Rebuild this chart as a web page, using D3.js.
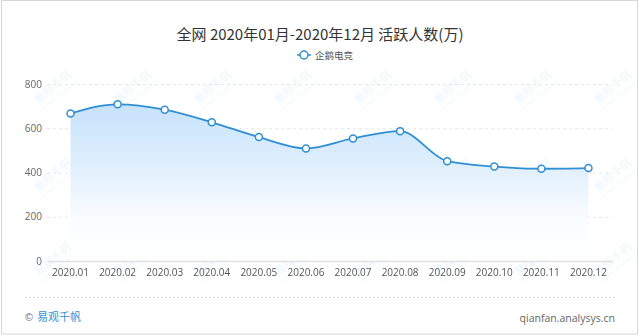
<!DOCTYPE html>
<html>
<head>
<meta charset="utf-8">
<script src="https://cdn.jsdelivr.net/npm/d3@7"></script>
<style>
  html, body { margin: 0; padding: 0; background: #fff; }
  svg { display: block; }
</style>
</head>
<body>
<div id="chart"></div>
<script>
const months = ['2020.01', '2020.02', '2020.03', '2020.04', '2020.05', '2020.06',
  '2020.07', '2020.08', '2020.09', '2020.10', '2020.11', '2020.12'];
const activeUsers = [667, 708, 684, 627, 560, 509, 554, 587, 451, 427, 417, 420];
const yTicks = [0, 200, 400, 600, 800];
const seriesName = '企鹅电竞';
const titleText = '全网 2020年01月-2020年12月 活跃人数(万)';

const totalWidth = 640;
const totalHeight = 336;
const margin = { top: 84, right: 28, bottom: 75, left: 47 };
const width = totalWidth - margin.left - margin.right;
const height = 261 - margin.top;

const data = months.map((m, i) => ({ month: m, value: activeUsers[i] }));

const xScale = d3.scaleBand().domain(months).range([0, width]);
const yScale = d3.scaleLinear().domain([0, 800]).range([height, 0]);
const cx = (d) => xScale(d.month) + xScale.bandwidth() / 2;

const root = d3.select('#chart')
  .append('svg')
  .attr('width', totalWidth)
  .attr('height', totalHeight);

// frame
root.append('rect')
  .attr('x', 1.5).attr('y', 0.5)
  .attr('width', 636).attr('height', 333.5)
  .attr('fill', '#fff')
  .attr('stroke', '#d6d6d6');

const defs = root.append('defs');
const grad = defs.append('linearGradient')
  .attr('id', 'areaFill')
  .attr('x1', 0).attr('y1', 0).attr('x2', 0).attr('y2', 1);
grad.append('stop').attr('offset', '0%').attr('stop-color', '#c6e2fb');
grad.append('stop').attr('offset', '45%').attr('stop-color', '#e4f1fd');
grad.append('stop').attr('offset', '72%').attr('stop-color', '#f9fcff');
grad.append('stop').attr('offset', '100%').attr('stop-color', '#ffffff');

// Render title
root.append('text')
  .attr('x', 320).attr('y', 40)
  .attr('text-anchor', 'middle')
  .attr('font-family', '"Noto Sans CJK SC", sans-serif')
  .attr('font-size', 15)
  .attr('fill', '#333')
  .text(titleText);

// Render legend
const legend = root.append('g').attr('transform', 'translate(297, 55)');
legend.append('line')
  .attr('x1', 0).attr('x2', 14)
  .attr('stroke', '#2f8fd2').attr('stroke-width', 1.5);
legend.append('circle')
  .attr('cx', 7).attr('r', 4)
  .attr('fill', '#fff').attr('stroke', '#2f8fd2').attr('stroke-width', 1.5);
legend.append('text')
  .attr('x', 18).attr('y', 3.5)
  .attr('font-family', '"Noto Sans CJK SC", sans-serif')
  .attr('font-size', 9.5)
  .attr('fill', '#555')
  .text(seriesName);

// watermarks
const wm = root.append('g').attr('opacity', 0.35);
[90, 178, 262].forEach((wy) => {
  d3.range(8).forEach((k) => {
    const wx = 55 + k * 80;
    const g = wm.append('g').attr('transform', `translate(${wx}, ${wy}) rotate(-40)`);
    g.append('text')
      .attr('font-family', '"Noto Sans CJK SC", sans-serif')
      .attr('font-size', 11)
      .attr('fill', '#c8e0f3')
      .attr('text-anchor', 'middle')
      .text('易观千帆');
    g.append('text')
      .attr('y', 8)
      .attr('font-family', 'Roboto, sans-serif')
      .attr('font-size', 5)
      .attr('fill', '#d8eaf7')
      .attr('text-anchor', 'middle')
      .text('qianfan.analysys.cn');
  });
});

const svg = root.append('g')
  .attr('transform', `translate(${margin.left}, ${margin.top})`);

// Render y axis with dashed grid
svg.append('g')
  .call(d3.axisLeft(yScale).tickValues(yTicks).tickSize(0).tickPadding(5))
  .call((g) => g.select('.domain').remove())
  .call((g) => g.selectAll('.tick text')
    .attr('font-family', '"Open Sans", sans-serif')
    .attr('font-size', 10)
    .attr('fill', '#666'))
  .call((g) => g.selectAll('.tick')
    .filter((d) => d !== 0)
    .append('line')
    .attr('x2', width)
    .attr('stroke', '#e6e6e6')
    .attr('stroke-dasharray', '3,3'));

// area + line
const area = d3.area()
  .x(cx)
  .y0(yScale(0))
  .y1((d) => yScale(d.value))
  .curve(d3.curveMonotoneX);

const line = d3.line()
  .x(cx)
  .y((d) => yScale(d.value))
  .curve(d3.curveMonotoneX);

svg.append('path')
  .datum(data)
  .attr('d', area)
  .attr('fill', 'url(#areaFill)');

// Render x axis
svg.append('g')
  .attr('transform', `translate(0, ${height})`)
  .call(d3.axisBottom(xScale).tickSize(0).tickPadding(8))
  .call((g) => g.select('.domain').attr('stroke', '#e0e0e0').attr('stroke-width', 1.5))
  .call((g) => g.selectAll('.tick text')
    .attr('font-family', '"Open Sans", sans-serif')
    .attr('font-size', 10)
    .attr('fill', '#555'));

svg.append('path')
  .datum(data)
  .attr('d', line)
  .attr('fill', 'none')
  .attr('stroke', '#2f8fd2')
  .attr('stroke-width', 1.8);

svg.selectAll('.dot')
  .data(data)
  .join('circle')
  .attr('class', 'dot')
  .attr('cx', cx)
  .attr('cy', (d) => yScale(d.value))
  .attr('r', 3.5)
  .attr('fill', '#fff')
  .attr('stroke', '#2f8fd2')
  .attr('stroke-width', 1.5);

// footer
root.append('line')
  .attr('x1', 25).attr('x2', 615)
  .attr('y1', 297.5).attr('y2', 297.5)
  .attr('stroke', '#d8d8d8')
  .attr('stroke-dasharray', '2,2');

root.append('text')
  .attr('x', 24).attr('y', 321)
  .attr('font-family', '"DejaVu Sans", sans-serif')
  .attr('font-size', 10)
  .attr('fill', '#777')
  .text('©');

root.append('text')
  .attr('x', 37).attr('y', 321)
  .attr('font-family', '"Noto Sans CJK SC", sans-serif')
  .attr('font-size', 11)
  .attr('fill', '#3a8fd6')
  .text('易观千帆');

root.append('text')
  .attr('x', 615).attr('y', 322)
  .attr('text-anchor', 'end')
  .attr('font-family', '"Open Sans", sans-serif')
  .attr('font-size', 10.5)
  .attr('fill', '#666')
  .text('qianfan.analysys.cn');
</script>
</body>
</html>
